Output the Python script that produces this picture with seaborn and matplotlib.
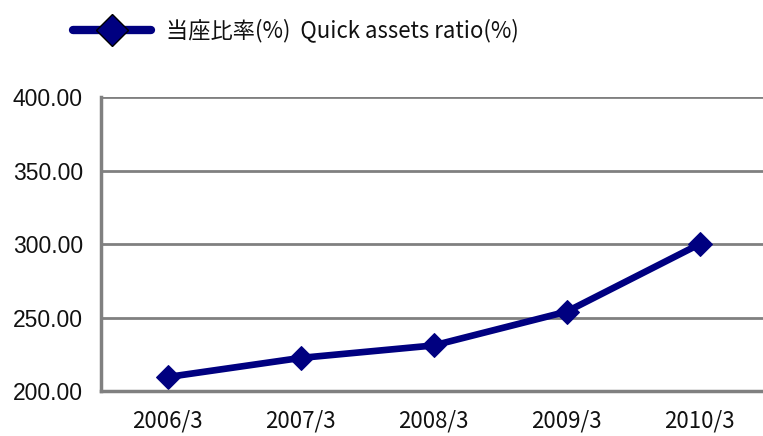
import matplotlib
matplotlib.use("Agg")
import matplotlib.pyplot as plt
import seaborn as sns
import pandas as pd
from matplotlib.ticker import FormatStrFormatter, FixedLocator

periods = ["2006/3", "2007/3", "2008/3", "2009/3", "2010/3"]
ratio = [209.5, 222.5, 231.0, 254.0, 300.0]
label = "当座比率(%)  Quick assets ratio(%)"

sns.set_style("white")
plt.rcParams['font.family'] = ['Liberation Sans', 'Noto Sans CJK JP', 'DejaVu Sans']

df = pd.DataFrame({"period": periods, "ratio": ratio})

fig = plt.figure(figsize=(7.63, 4.36), dpi=100)
ax = fig.add_axes([0.1324, 0.1032, 0.872, 0.6743])

sns.lineplot(data=df, x="period", y="ratio", ax=ax, color="#000080",
             linewidth=4.8, marker="D", markersize=12, markeredgecolor="#000080",
             label=label, sort=False)

ax.set_xlim(-0.5, 4.5)
ax.set_ylim(200, 400)
ax.set_yticks([200, 250, 300, 350, 400])
ax.yaxis.set_major_formatter(FormatStrFormatter("%.2f"))
ax.grid(axis="y", color="#808080", linewidth=2)
ax.set_axisbelow(True)
for s in ["top", "right"]:
    ax.spines[s].set_visible(False)
for s in ["left", "bottom"]:
    ax.spines[s].set_color("#808080")
    ax.spines[s].set_linewidth(2.5)

ax.tick_params(axis="y", length=0, pad=13, labelsize=16.5, labelcolor="#111111")
ax.tick_params(axis="x", which="major", length=0, pad=13, labelsize=16,
               labelcolor="#111111")
for t in ax.get_xticklabels():
    t.set_family(['Noto Sans CJK JP', 'DejaVu Sans'])
ax.xaxis.set_minor_locator(FixedLocator([0.5, 1.5, 2.5, 3.5]))
ax.tick_params(axis="x", which="minor", direction="in", length=6, width=2,
               color="#808080")
ax.set_xlabel("")
ax.set_ylabel("")

leg = ax.legend(loc="center left", bbox_to_anchor=(0.0695, 0.93),
                bbox_transform=fig.transFigure, frameon=False,
                handlelength=3.5, handletextpad=0.7, fontsize=16)
for t in leg.get_texts():
    t.set_family(['Noto Sans CJK JP', 'DejaVu Sans'])
    t.set_color("#111111")
for h in leg.legend_handles:
    h.set_markeredgecolor("black")
    h.set_markeredgewidth(1)
    h.set_markersize(16)
    h.set_linewidth(6)

fig.savefig("out.png", dpi=100)
